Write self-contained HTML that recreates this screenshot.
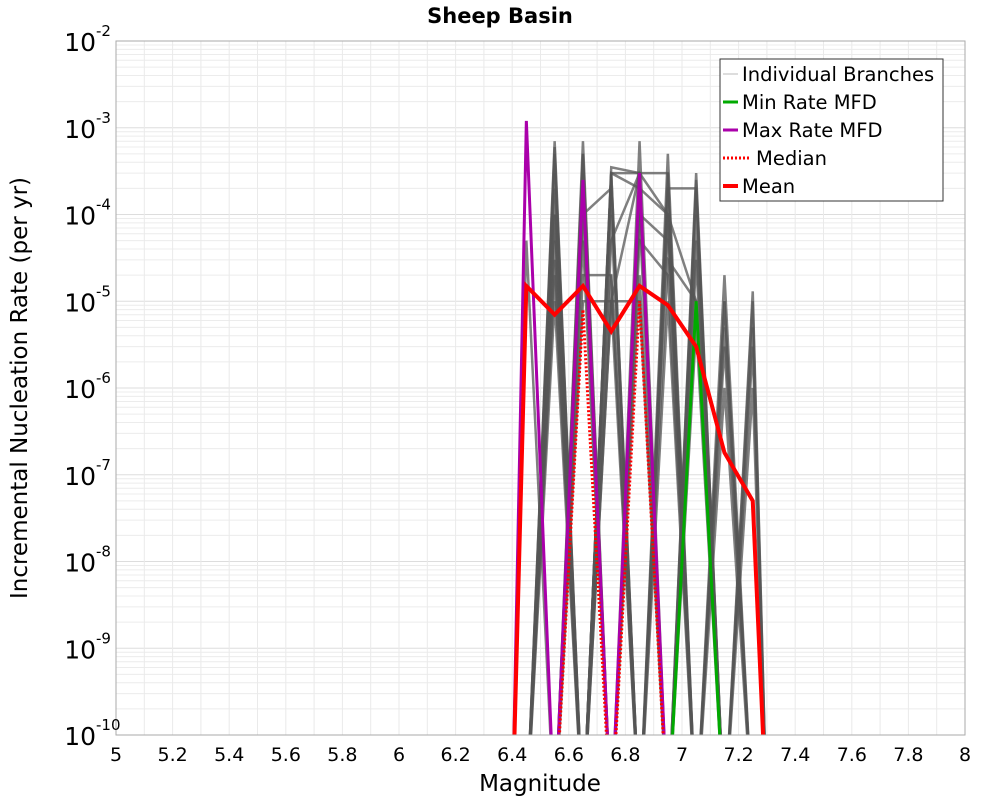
<!DOCTYPE html>
<html><head><meta charset="utf-8"><style>
html,body{margin:0;padding:0;background:#fff;overflow:hidden;width:1000px;height:800px;}
svg{display:block;}
svg text{font-family:"DejaVu Sans","Liberation Sans",sans-serif;}
</style></head><body>
<svg id="c" width="1000" height="800" xmlns="http://www.w3.org/2000/svg">
<text x="500" y="23" text-anchor="middle" font-size="21" font-weight="bold">Sheep Basin</text>
<g id="grid"></g>
<g id="marks" clip-path="url(#clip)"></g>
<defs><clipPath id="clip"><rect x="116" y="41" width="849" height="694"/></clipPath></defs>
<rect x="116" y="41" width="849" height="694" fill="none" stroke="#aaa"/>
<g id="axes"></g>
<text x="540" y="791" text-anchor="middle" font-size="23">Magnitude</text>
<text transform="translate(27,388) rotate(-90)" text-anchor="middle" font-size="23">Incremental Nucleation Rate (per yr)</text>
<g>
<rect x="720" y="59" width="223" height="142" fill="#fff" stroke="#333"/>
<line x1="723" y1="74" x2="738" y2="74" stroke="#bbb"/>
<text x="742" y="81" font-size="19.5">Individual Branches</text>
<line x1="723" y1="102" x2="738" y2="102" stroke="#00aa00" stroke-width="3"/>
<text x="742" y="109" font-size="19.5">Min Rate MFD</text>
<line x1="723" y1="130" x2="738" y2="130" stroke="#aa00aa" stroke-width="3"/>
<text x="742" y="137" font-size="19.5">Max Rate MFD</text>
<line x1="723" y1="158" x2="751" y2="158" stroke="#f00" stroke-width="3" stroke-dasharray="2,2"/>
<text x="756" y="165" font-size="19.5">Median</text>
<line x1="723" y1="186" x2="738" y2="186" stroke="#f00" stroke-width="4"/>
<text x="742" y="193" font-size="19.5">Mean</text>
</g>
</svg>
<script>
const mags=[6.45,6.55,6.65,6.75,6.85,6.95,7.05,7.15,7.25];
const meanVals=[1.5e-5,7e-6,1.5e-5,4.5e-6,1.5e-5,9e-6,3e-6,1.8e-7,5e-8];
const medianVals=[0,0,8e-6,0,1e-5,0,0,0,0];
const maxVals=[1.2e-3,0,2.5e-4,0,3e-4,0,0,0,0];
const minVals=[0,0,0,0,0,0,1e-5,0,0];
const xTicks=[5,5.2,5.4,5.6,5.8,6,6.2,6.4,6.6,6.8,7,7.2,7.4,7.6,7.8,8];
const yExps=[-2,-3,-4,-5,-6,-7,-8,-9,-10];
const branches=[
[0,7e-4,0,3e-4,0,2e-4,0,0,0],[0,0,7e-4,0,3e-4,0,2.5e-4,0,0],
[5e-5,0,0,3.5e-4,3e-4,3e-4,0,0,0],[0,5e-4,0,0,7e-4,0,0,2e-5,0],
[0,0,5e-4,0,0,5e-4,0,0,1.3e-5],[0,3e-4,0,2e-4,0,0,1e-4,0,0],
[0,0,3e-4,0,2e-4,0,0,1e-5,0],[0,1e-4,0,3e-4,2e-4,1e-4,0,0,5e-6],
[0,0,1e-4,0,1e-4,0,3e-5,0,0],[0,2e-5,0,1e-4,0,3e-4,0,0,0],
[0,0,5e-5,0,5e-5,2e-5,0,5e-6,0],[0,5e-5,0,2e-5,0,0,2e-4,0,0],
[0,0,2e-5,2e-5,0,1e-4,0,0,3e-6],[0,1e-5,0,0,2e-5,0,5e-5,0,0],
[0,0,1e-5,1e-5,0,3e-5,1e-5,0,0],[0,3e-5,0,5e-5,3e-4,0,0,1e-6,0],
[0,0,2e-4,0,0,2e-4,2e-4,0,0],[0,1e-4,0,1e-5,1e-5,0,0,0,1e-6],
[0,0,1e-4,2e-4,0,1e-5,0,3e-6,0],[0,2e-4,0,0,1e-4,5e-5,0,0,0],
[0,0,5e-4,0,2e-4,0,5e-6,0,0],[0,6e-4,0,3e-4,0,1e-4,0,1e-5,0],
[0,0,0,3e-4,3e-4,0,3e-4,0,0],[0,0,0,1e-5,3e-4,1e-4,1e-5,0,1e-5]
];
const X0=116,X1=965,Y0=41,Y1=735;
const xs=m=>X0+(m-5)/3*(X1-X0);
const ys=v=>Y0+(-2-Math.log10(v<=0?1e-11:v))/8*(Y1-Y0);
const NS="http://www.w3.org/2000/svg";
function mk(t,a,p){const e=document.createElementNS(NS,t);for(const k in a)e.setAttribute(k,a[k]);p.appendChild(e);return e;}
const grid=document.getElementById('grid'),marks=document.getElementById('marks'),axes=document.getElementById('axes');
for(let e=-10;e<-2;e++)for(let k=1;k<10;k++){const y=ys(k*Math.pow(10,e));const l=mk('line',{x1:X0,x2:X1,y1:y,y2:y,stroke:k==1?'#ddd':'#ececec'},grid);

}
for(let m=5;m<=8.001;m+=0.1){const x=xs(m);const l=mk('line',{x1:x,x2:x,y1:Y0,y2:Y1,stroke:'#eaeaea'},grid);

}
function path(vals){let d='M'+xs(mags[0]-0.05)+','+ys(0);vals.forEach((v,i)=>{d+=' L'+xs(mags[i])+','+ys(v);});d+=' L'+xs(mags[mags.length-1]+0.05)+','+ys(0);return d;}
branches.forEach(b=>{const p=mk('path',{d:path(b),fill:'none',stroke:'#555','stroke-width':2.5,'stroke-opacity':0.75},marks);

});
const series=[[minVals,'#00aa00',3,null,'min-rate-line'],[maxVals,'#aa00aa',3,null,'max-rate-line'],[medianVals,'#f00',3,'2,2','median-line'],[meanVals,'#f00',4,null,'mean-line']];
series.forEach(s=>{const a={d:path(s[0]),fill:'none',stroke:s[1],'stroke-width':s[2]};if(s[3])a['stroke-dasharray']=s[3];const p=mk('path',a,marks);

});
xTicks.forEach(m=>{const t=mk('text',{x:xs(m),y:761,'text-anchor':'middle','font-size':19},axes);t.textContent=String(m);

});
yExps.forEach(e=>{const y=ys(Math.pow(10,e));const t=mk('text',{x:96,y:y+10,'text-anchor':'end','font-size':25},axes);t.textContent='10';


const s=mk('text',{x:96,y:y-5,'font-size':15},axes);s.textContent=String(e);

});
</script>
</body></html>
